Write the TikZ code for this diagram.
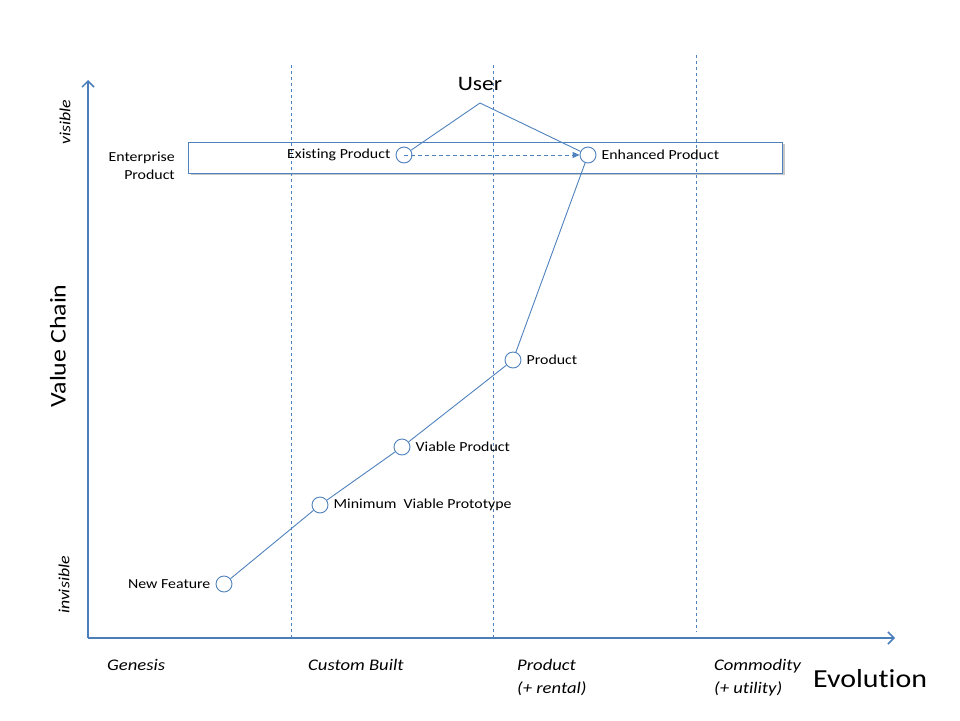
\documentclass[tikz,border=0pt]{standalone}
\usepackage{fontspec}
\setmainfont[FakeStretch=1.15, Ligatures=NoCommon]{Carlito}
\usetikzlibrary{arrows.meta,shadows}
\definecolor{axisblue}{HTML}{4A7EBB}
\definecolor{lineblue}{HTML}{4F81BD}

\begin{document}
\begin{tikzpicture}[x=1pt, y=-1pt,
            stage/.style={circle, draw=lineblue, fill=white, line width=0.9pt, minimum size=16pt, inner sep=0pt},
            txt/.style={font=\fontsize{13.8}{18}\selectfont, inner sep=0pt},
            phase/.style={font=\fontsize{16.2}{23}\selectfont\itshape, align=left, anchor=base west, inner sep=0pt},
            side/.style={font=\fontsize{15.5}{18}\selectfont\itshape, rotate=90, inner sep=0pt},
            link/.style={draw=lineblue, line width=0.9pt},
            divider/.style={draw=lineblue, line width=0.7pt, dash pattern=on 3pt off 3pt},
            label distance=5pt
          ]
          \useasboundingbox (0,0) rectangle (960,720);

          %Band
          \node[draw=lineblue, line width=1pt, fill=white, minimum width=594pt, minimum height=31pt,
                drop shadow={shadow xshift=2pt, shadow yshift=-2pt, fill=black!22, opacity=1}] (band) at (485.5,157.5) {};

          %Dividers
          \draw[divider] (291,65) -- (291,638);
          \draw[divider] (493,65) -- (493,638);
          \draw[divider] (696,55) -- (696,632);

          %Axes
          \coordinate (origin) at (88,638);
          \coordinate (ytop) at (88,80);
          \coordinate (xend) at (895,638);
          \draw[axisblue, line width=2pt, -{Straight Barb[length=6pt, width=12pt, line width=1.5pt]}] (origin) -- (ytop);
          \draw[axisblue, line width=2pt, -{Straight Barb[length=6pt, width=12pt, line width=1.5pt]}] (origin) -- (xend);

          %Nodes
          \node[font=\fontsize{20.5}{24}\selectfont, inner sep=0pt] at (480,84) (user) {User};
          \coordinate (userpt) at (480,103);
          \node[stage, label={[txt]left:Existing Product}] at (404,155) (ex) {};
          \node[stage, label={[txt]right:Enhanced Product}] at (588,155) (en) {};
          \node[stage, label={[txt]right:Product}] at (513,360) (prod) {};
          \node[stage, label={[txt]right:Viable Product}] at (402,447) (viable) {};
          \node[stage, label={[txt]right:Minimum\ \ Viable Prototype}] at (320,505) (mvp) {};
          \node[stage, label={[txt]left:New Feature}] at (224,584) (new) {};

          %Lines
          \draw[link] (userpt) -- (ex);
          \draw[link] (userpt) -- (en);
          \draw[link] (new) -- (mvp);
          \draw[link] (mvp) -- (viable);
          \draw[link] (viable) -- (prod);
          \draw[link] (prod) -- (en);
          \draw[link, dash pattern=on 4pt off 3pt, -{Triangle[length=7pt, width=6pt]}] (ex.center) -- (en);

          %Labels
          \node[txt, align=right, anchor=east] at (175,166) (ent) {Enterprise\\Product};
          \node[font=\fontsize{22.5}{26}\selectfont, rotate=90, inner sep=0pt] at (58,346) (vc) {Value Chain};
          \node[side] at (65,122) (vis) {visible};
          \node[side] at (64,585) (invis) {invisible};
          \node[phase] at (107,670) (gen) {Genesis};
          \node[phase] at (308,670) (cust) {Custom Built};
          \node[phase] at (517,693) (prodph) {Product\\(+ rental)};
          \node[phase] at (714,693) (comm) {Commodity\\(+ utility)};
          \node[font=\fontsize{26}{30}\selectfont, anchor=west, inner sep=0pt] at (813,679) (evo) {Evolution};

        \end{tikzpicture}
\end{document}
